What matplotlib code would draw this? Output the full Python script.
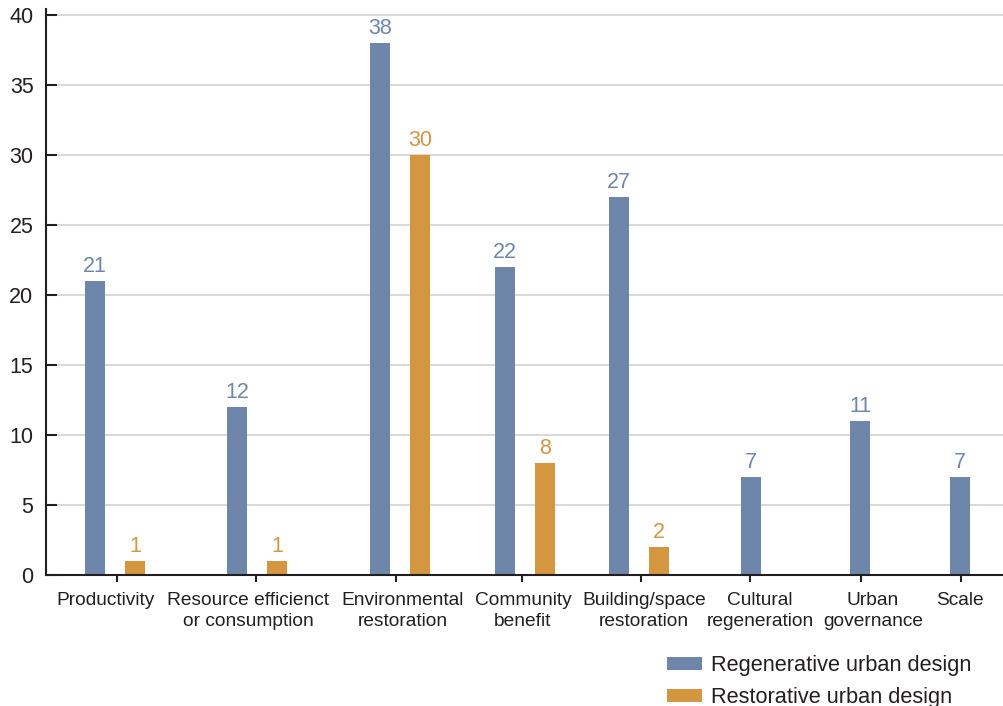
import matplotlib
matplotlib.use("Agg")
import matplotlib.pyplot as plt
from matplotlib.patches import Patch

plt.rcParams["font.family"] = ["Liberation Sans", "DejaVu Sans"]

categories = [
    "Productivity",
    "Resource efficienct\nor consumption",
    "Environmental\nrestoration",
    "Community\nbenefit",
    "Building/space\nrestoration",
    "Cultural\nregeneration",
    "Urban\ngovernance",
    "Scale",
]
regenerative = [21, 12, 38, 22, 27, 7, 11, 7]
restorative = [1, 1, 30, 8, 2, 0, 0, 0]
series_names = ["Regenerative urban design", "Restorative urban design"]
y_ticks = [0, 5, 10, 15, 20, 25, 30, 35, 40]

BLUE = "#6f86ab"
ORANGE = "#d4963f"
INK = "#231f20"
GRID = "#d6d6d6"

# horizontal layout (axis units): bar-group centres, tick marks, label anchors
centers = [115, 257, 400, 525, 639, 751, 860, 960]
tick_pos = [117, 256, 396, 522, 641, 750, 861, 961]
label_pos = [106, 248, 403, 523, 644, 760, 873, 960]
half_gap = 20
bar_w = 20

fig = plt.figure(figsize=(10.04, 7.06), dpi=100)
ax = fig.add_axes([46 / 1004, 131 / 706, (1004 - 46) / 1004, 566 / 706])

for cx, reg, res in zip(centers, regenerative, restorative):
    if res:
        xb, xo = cx - half_gap, cx + half_gap
    else:
        xb, xo = cx, None
    ax.bar(xb, reg, width=bar_w, color=BLUE, zorder=3)
    ax.annotate(str(reg), (xb, reg), xytext=(0, 6.5), textcoords="offset points",
                ha="center", va="baseline", color=BLUE, fontsize=15.5)
    if res:
        ax.bar(xo, res, width=bar_w, color=ORANGE, zorder=3)
        ax.annotate(str(res), (xo, res), xytext=(0, 6.5), textcoords="offset points",
                    ha="center", va="baseline", color=ORANGE, fontsize=15.5)

ax.set_xlim(46, 1004)
ax.set_ylim(0, 566 / 14)
ax.set_yticks(y_ticks)
ax.set_yticklabels([str(t) for t in y_ticks])

# tick marks on the major ticks, category names on unmarked minor ticks
ax.set_xticks(tick_pos)
ax.set_xticklabels([])
ax.set_xticks(label_pos, minor=True)
ax.set_xticklabels(categories, minor=True, linespacing=1.3)

for t in y_ticks[1:]:
    ax.axhline(t, color=GRID, lw=1.3, zorder=1)

for side in ("top", "right"):
    ax.spines[side].set_visible(False)
for side in ("left", "bottom"):
    ax.spines[side].set_color(INK)
    ax.spines[side].set_linewidth(1.5)
    ax.spines[side].set_zorder(4)

ax.tick_params(axis="y", direction="in", length=8, width=1.5, color=INK,
               labelsize=15.5, labelcolor=INK, pad=9)
ax.tick_params(axis="x", which="major", direction="out", length=5, width=1.5,
               color=INK)
ax.tick_params(axis="x", which="minor", length=0, labelsize=13.8,
               labelcolor=INK, pad=12)

handles = [Patch(facecolor=BLUE), Patch(facecolor=ORANGE)]
fig.legend(handles, series_names, loc="upper left",
           bbox_to_anchor=(667 / 1004, 1 - 655 / 706), frameon=False,
           fontsize=15.7, handlelength=1.6, handleheight=0.55,
           handletextpad=0.4, labelspacing=0.5, borderpad=0, borderaxespad=0,
           labelcolor=INK)

fig.savefig("out.png", dpi=100)
